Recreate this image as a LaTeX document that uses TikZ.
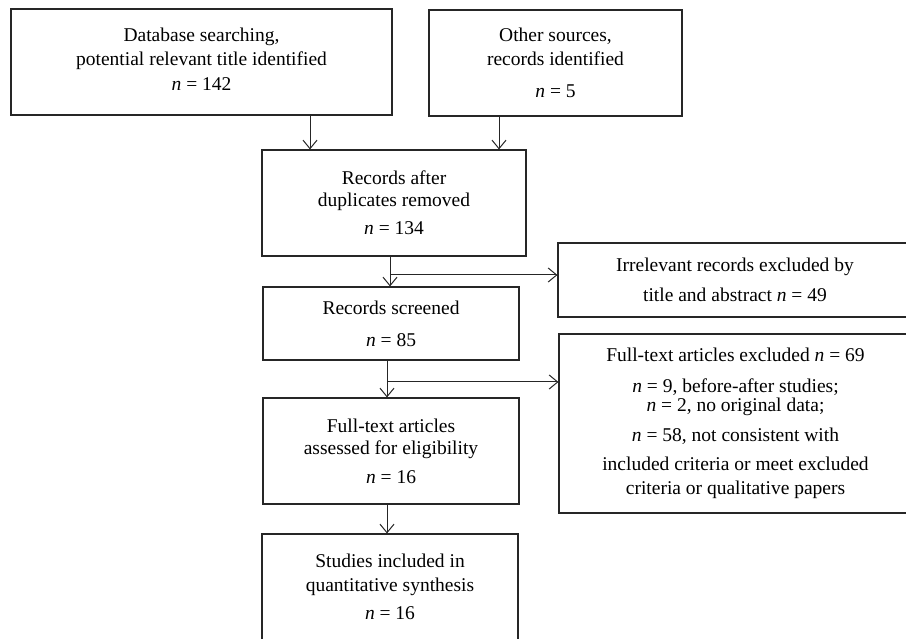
\documentclass[tikz,border=0pt]{standalone}
\usepackage{fontspec}
\setmainfont{Liberation Serif}
\usetikzlibrary{arrows.meta}
\newcommand{\nv}{\textit{n}}
\tikzset{
  boxstyle/.style={draw=black!85, line width=1.1pt, rectangle, align=center, inner sep=0pt,
    font=\fontsize{19.5}{24}\selectfont},
  arr/.style={draw=black!85, line width=1pt, -{Straight Barb[length=8.5pt,width=14pt,line width=1pt]}}
}
\begin{document}
\begin{tikzpicture}[x=1pt,y=-1pt]
\useasboundingbox (0,0) rectangle (906,639);
\node[boxstyle, minimum width=381pt, minimum height=106pt] (b1) at (201.5,62)
  {Database searching,\\ potential relevant title identified\\[1pt] \nv{} = 142\\[-18pt]\mbox{}};
\node[boxstyle, minimum width=253pt, minimum height=106pt] (b2) at (555.5,63)
  {Other sources,\\ records identified\\[8pt] \nv{} = 5};
\node[boxstyle, minimum width=264pt, minimum height=106pt] (b3) at (394,203)
  {Records after\\[-2pt] duplicates removed\\[4pt] \nv{} = 134};
\node[boxstyle, minimum width=256pt, minimum height=73pt] (b4) at (391,323.5)
  {Records screened\\[8pt] \nv{} = 85};
\node[boxstyle, minimum width=256pt, minimum height=106pt] (b5) at (391,451)
  {Full-text articles\\[-2pt] assessed for eligibility\\[5pt] \nv{} = 16};
\node[boxstyle, minimum width=256pt, minimum height=106pt] (b6) at (390,587)
  {Studies included in\\ quantitative synthesis\\[4pt] \nv{} = 16};
\node[boxstyle, minimum width=354pt, minimum height=74pt] (irr) at (735,280)
  {Irrelevant records excluded by\\[6pt] title and abstract \nv{} = 49};
\node[boxstyle, minimum width=353pt, minimum height=179pt] (full) at (735.5,423.5)
  {Full-text articles excluded \nv{} = 69\\[7pt]
   \nv{} = 9, before-after studies;\\[-5pt]
   \nv{} = 2, no original data;\\[6pt]
   \nv{} = 58, not consistent with\\[5pt]
   included criteria or meet excluded\\
   criteria or qualitative papers};
\coordinate (c1) at (310,0);
\coordinate (c2) at (499,0);
\coordinate (c3) at (390,0);
\coordinate (c4) at (387,0);
\coordinate (j1) at (390,275);
\coordinate (j2) at (387,382);
\draw[arr] (c1 |- b1.south) -- (c1 |- b3.north);
\draw[arr] (c2 |- b2.south) -- (c2 |- b3.north);
\draw[arr] (c3 |- b3.south) -- (c3 |- b4.north);
\draw[arr] (j1) -- (j1 -| irr.west);
\draw[arr] (c4 |- b4.south) -- (c4 |- b5.north);
\draw[arr] (j2) -- (j2 -| full.west);
\draw[arr] (c4 |- b5.south) -- (c4 |- b6.north);
\end{tikzpicture}
\end{document}
